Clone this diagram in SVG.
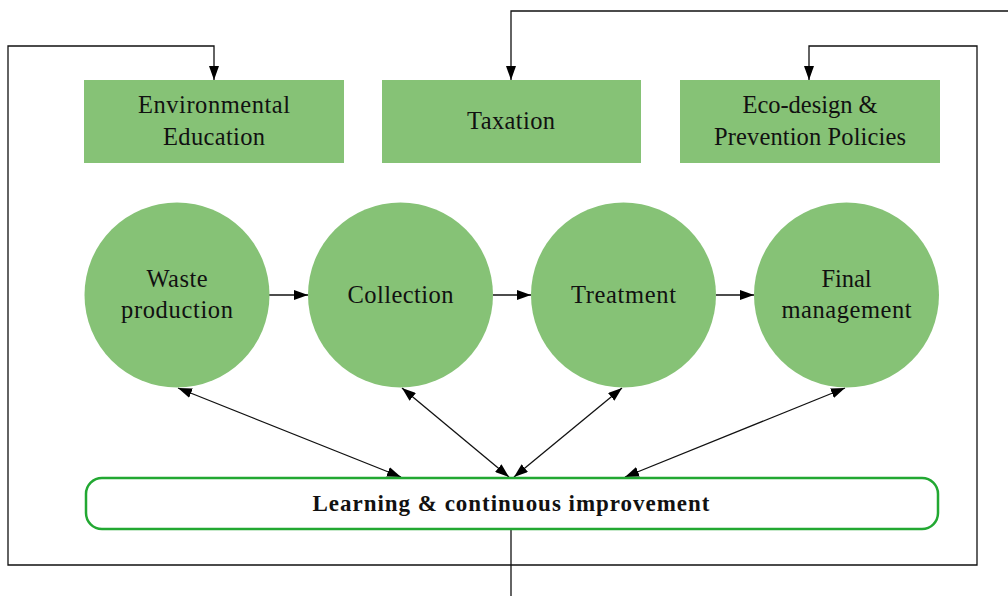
<svg xmlns="http://www.w3.org/2000/svg" width="1008" height="598" viewBox="0 0 1008 598">
<style>
.box{fill:#86c276;}
.circ{fill:#86c276;}
.t{font-family:"Liberation Serif","Times New Roman",serif;font-size:24.5px;fill:#111;text-anchor:middle;}
.b{font-family:"Liberation Serif","Times New Roman",serif;font-size:23px;font-weight:bold;fill:#111;text-anchor:middle;}
.ln{fill:none;stroke:#111;stroke-width:1.3;}
</style>
<defs>
<marker id="ah" viewBox="0 0 14 10" refX="14" refY="5" markerWidth="14" markerHeight="10" markerUnits="userSpaceOnUse" orient="auto-start-reverse">
<path d="M0,0 L14,5 L0,10 Z" fill="#000"/>
</marker>
</defs>
<g id="connectors">
<polyline class="ln" points="511,596 511,529"/>
<polyline class="ln" points="511,565 8,565 8,46 214,46 214,80" marker-end="url(#ah)"/>
<polyline class="ln" points="1008,11 511,11 511,80" marker-end="url(#ah)"/>
<polyline class="ln" points="511,565 977,565 977,46 809,46 809,80" marker-end="url(#ah)"/>
<line class="ln" x1="269" y1="295" x2="308" y2="295" marker-end="url(#ah)"/>
<line class="ln" x1="493" y1="295" x2="531" y2="295" marker-end="url(#ah)"/>
<line class="ln" x1="716" y1="295" x2="754" y2="295" marker-end="url(#ah)"/>
<line class="ln" x1="178" y1="388" x2="401" y2="477" marker-start="url(#ah)" marker-end="url(#ah)"/>
<line class="ln" x1="402" y1="388" x2="509" y2="477" marker-start="url(#ah)" marker-end="url(#ah)"/>
<line class="ln" x1="622" y1="388" x2="514" y2="477" marker-start="url(#ah)" marker-end="url(#ah)"/>
<line class="ln" x1="845" y1="388" x2="625" y2="477" marker-start="url(#ah)" marker-end="url(#ah)"/>
</g>
<g id="env-education">
<rect class="box" x="84" y="80" width="260" height="83"/>
<text class="t" x="214" y="113" textLength="152" lengthAdjust="spacing">Environmental</text>
<text class="t" x="214" y="145" textLength="102" lengthAdjust="spacing">Education</text>
</g>
<g id="taxation">
<rect class="box" x="382" y="80" width="259" height="83"/>
<text class="t" x="511" y="129" textLength="88" lengthAdjust="spacing">Taxation</text>
</g>
<g id="eco-design">
<rect class="box" x="680" y="80" width="260" height="83"/>
<text class="t" x="810" y="113" textLength="135" lengthAdjust="spacing">Eco-design &amp;</text>
<text class="t" x="810" y="145" textLength="192" lengthAdjust="spacing">Prevention Policies</text>
</g>
<g id="waste-production">
<circle class="circ" cx="177" cy="295" r="92.5"/>
<text class="t" x="177" y="287" textLength="61" lengthAdjust="spacing">Waste</text>
<text class="t" x="177" y="318" textLength="112" lengthAdjust="spacing">production</text>
</g>
<g id="collection">
<circle class="circ" cx="400.5" cy="295" r="92.5"/>
<text class="t" x="400.5" y="303" textLength="106" lengthAdjust="spacing">Collection</text>
</g>
<g id="treatment">
<circle class="circ" cx="623.5" cy="295" r="92.5"/>
<text class="t" x="623.5" y="303" textLength="105" lengthAdjust="spacing">Treatment</text>
</g>
<g id="final-management">
<circle class="circ" cx="846.5" cy="295" r="92.5"/>
<text class="t" x="846.5" y="287" textLength="50" lengthAdjust="spacing">Final</text>
<text class="t" x="846.5" y="318" textLength="130" lengthAdjust="spacing">management</text>
</g>
<g id="learning">
<rect x="86" y="478" width="852" height="51" rx="16" ry="16" fill="#fff" stroke="#22a832" stroke-width="2.5"/>
<text class="b" x="511" y="511" textLength="397" lengthAdjust="spacing">Learning &amp; continuous improvement</text>
</g>
</svg>
